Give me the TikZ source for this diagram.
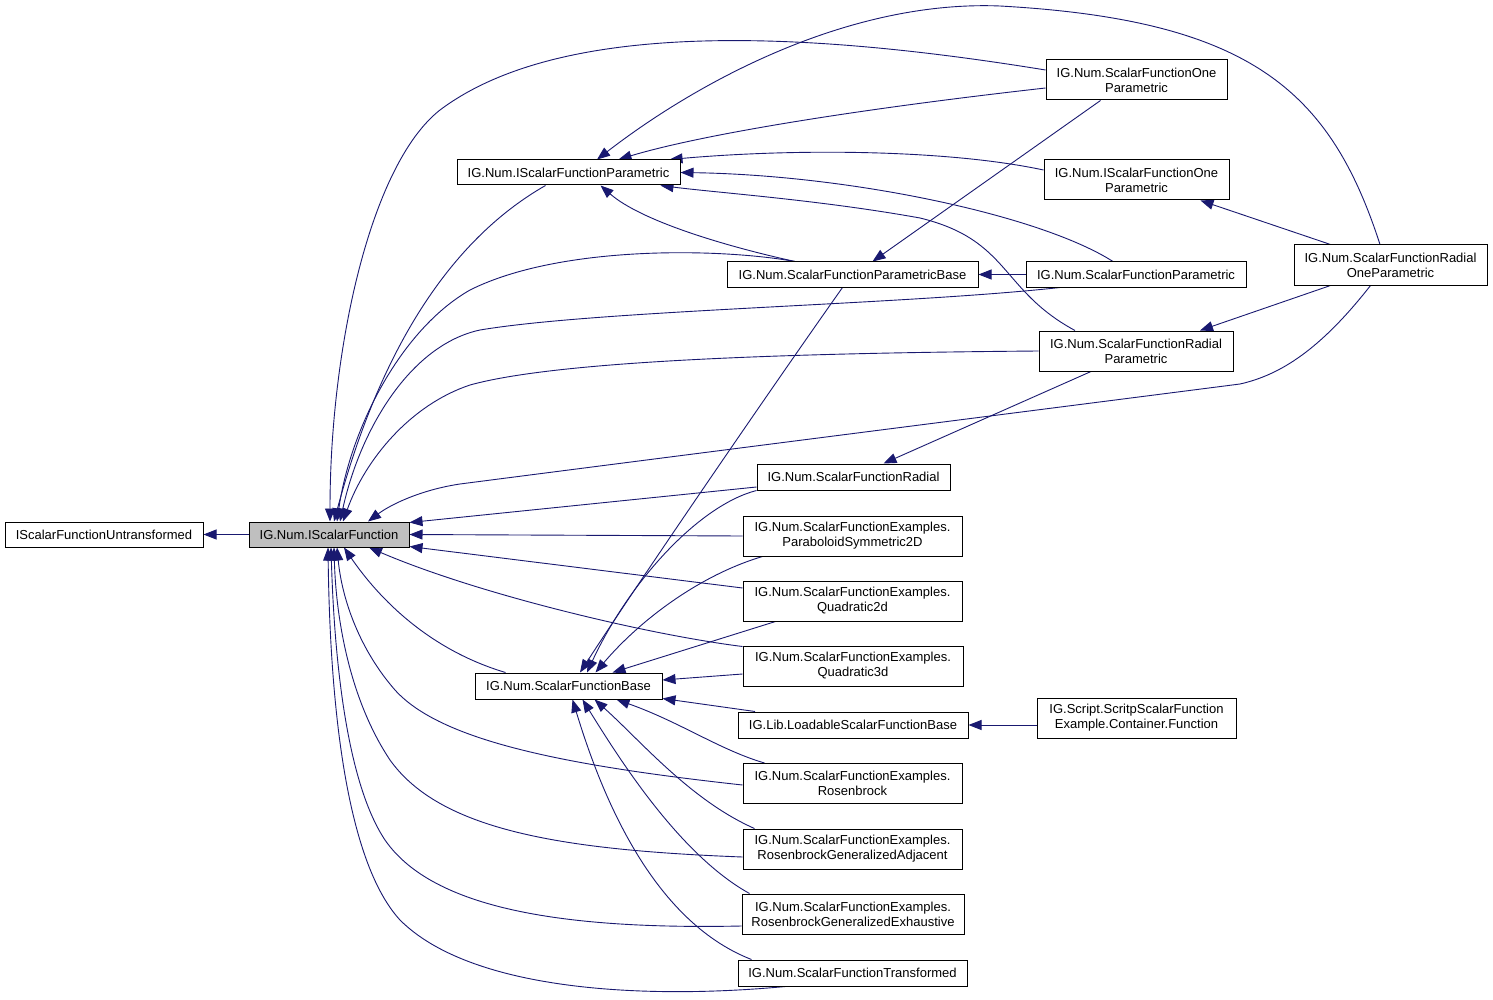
\documentclass[tikz,border=0pt]{standalone}
\usepackage{fontspec}
\setmainfont{Liberation Sans}
\usetikzlibrary{arrows.meta,calc}
\definecolor{edgeblue}{HTML}{191970}
\definecolor{boxgray}{HTML}{BFBFBF}
\pgfdeclarelayer{bg}
\pgfsetlayers{bg,main}
\begin{document}
\begin{tikzpicture}[x=1pt,y=-1pt,
 box/.style={draw=black,line width=1pt,fill=white,inner sep=0pt,minimum height=25pt,align=center,font=\fontsize{13}{15}\selectfont},
 tall/.style={box,minimum height=40pt},
 edge/.style={draw=edgeblue,line width=0.9pt,-{Triangle[length=13pt,width=10pt]}}]
\useasboundingbox (0,0) rectangle (1493,1000);

\node[box,fill=boxgray,minimum width=160pt] (I) at (329,534.5) {IG.Num.IScalarFunction};
\node[box,minimum width=198pt] (U) at (104,534.5) {IScalarFunctionUntransformed};
\node[box,minimum width=223pt] (IP) at (568.5,172.5) {IG.Num.IScalarFunctionParametric};
\node[box,minimum width=251pt] (PB) at (852.5,274.5) {IG.Num.ScalarFunctionParametricBase};
\node[box,minimum width=220pt] (SFP) at (1136,274.5) {IG.Num.ScalarFunctionParametric};
\node[tall,minimum width=181pt] (SFO) at (1136.5,80) {IG.Num.ScalarFunctionOne\\Parametric};
\node[tall,minimum width=185pt] (ISFO) at (1136.5,180) {IG.Num.IScalarFunctionOne\\Parametric};
\node[tall,minimum width=193pt] (ROP) at (1390.5,265) {IG.Num.ScalarFunctionRadial\\OneParametric};
\node[tall,minimum width=194pt] (RP) at (1136,351) {IG.Num.ScalarFunctionRadial\\Parametric};
\node[box,minimum width=193pt,minimum height=26pt] (R) at (853.5,477) {IG.Num.ScalarFunctionRadial};
\node[tall,minimum width=219pt] (PAR) at (852.5,536) {IG.Num.ScalarFunctionExamples.\\ParaboloidSymmetric2D};
\node[tall,minimum width=219pt] (Q2) at (852.5,601) {IG.Num.ScalarFunctionExamples.\\Quadratic2d};
\node[tall,minimum width=220pt] (Q3) at (853,666) {IG.Num.ScalarFunctionExamples.\\Quadratic3d};
\node[box,minimum width=187pt,minimum height=26pt] (SB) at (568.5,686) {IG.Num.ScalarFunctionBase};
\node[box,minimum width=230pt,minimum height=26pt] (LD) at (853,725) {IG.Lib.LoadableScalarFunctionBase};
\node[tall,minimum width=219pt] (ROS) at (852.5,783.5) {IG.Num.ScalarFunctionExamples.\\Rosenbrock};
\node[tall,minimum width=219pt] (RGA) at (852.5,849) {IG.Num.ScalarFunctionExamples.\\RosenbrockGeneralizedAdjacent};
\node[tall,minimum width=222pt] (RGE) at (853,914) {IG.Num.ScalarFunctionExamples.\\RosenbrockGeneralizedExhaustive};
\node[box,minimum width=229pt,minimum height=26pt] (TR) at (852.5,973) {IG.Num.ScalarFunctionTransformed};
\node[tall,minimum width=199pt] (SC) at (1136.5,718) {IG.Script.ScritpScalarFunction\\Example.Container.Function};

\begin{pgfonlayer}{bg}
\fill[white] (0,0) rectangle (1493,1000);
% straight edges
\draw[edge] (I.west) -- (U.east);
\draw[edge] (SFP.west) -- (PB.east);
\draw[edge] ([yshift=-7pt]SC.west) -- (LD.east);
\draw[edge] ([xshift=-36pt]SFO.south) -- ([xshift=20pt]PB.north);
\draw[edge] ([xshift=-60pt]ROP.north) -- ([xshift=64pt]ISFO.south);
\draw[edge] ([xshift=-60pt]ROP.south) -- ([xshift=64pt]RP.north);
\draw[edge] ([xshift=-45pt]RP.south) -- ([xshift=30pt]R.north);
% into IP
\draw[edge] ([xshift=-10.5pt]ROP.north) .. controls (1330,90) and (1250,20) .. (1000,6) .. controls (850,0) and (700,80) .. ([xshift=28.5pt]IP.north);
\draw[edge] ([yshift=-8pt]SFO.west) .. controls (850,110) and (700,135) .. ([xshift=50pt]IP.north);
\draw[edge] ([yshift=10pt]ISFO.west) .. controls (950,150) and (800,148) .. ([xshift=-11pt]IP.north east);
\draw[edge] ([xshift=-23pt]SFP.north) .. controls (1040,215) and (850,175) .. (IP.east);
\draw[edge] ([xshift=-61pt]RP.north) .. controls (1000,290) and (1010,240) .. (920,218) .. controls (820,200) and (720,193) .. ([xshift=-20pt]IP.south east);
\draw[edge] ([xshift=-57.5pt]PB.north) .. controls (720,245) and (640,220) .. ([xshift=32pt]IP.south);
% into I
\draw[edge] ([yshift=10pt]SFO.west) .. controls (800,30) and (560,20) .. (440,110) .. controls (370,165) and (330,350) .. ([xshift=1pt]I.north);
\draw[edge] ([xshift=-23pt]IP.south) .. controls (450,240) and (380,350) .. ([xshift=5pt]I.north);
\draw[edge] ([xshift=-57.5pt]PB.north) .. controls (720,248) and (560,245) .. (470,290) .. controls (400,330) and (350,430) .. ([xshift=8pt]I.north);
\draw[edge] ([xshift=-76pt]SFP.south) .. controls (900,305) and (600,310) .. (480,330) .. controls (410,345) and (360,430) .. ([xshift=11pt]I.north);
\draw[edge] (RP.west) .. controls (800,353) and (560,360) .. (470,385) .. controls (410,405) and (365,460) .. ([xshift=14pt]I.north);
\draw[edge] ([xshift=-20pt]ROP.south) .. controls (1320,350) and (1280,375) .. (1240,384) .. controls (1100,402) and (700,453) .. (460,484) .. controls (420,490) and (390,505) .. ([xshift=39pt]I.north);
\draw[edge] ([yshift=-10pt]R.west) -- ([yshift=-1pt]I.north east);
\draw[edge] (PAR.west) -- (I.east);
\draw[edge] ([yshift=13pt]Q2.west) -- ([yshift=-12pt]I.east);
\draw[edge] ([yshift=-1pt]Q3.north west) .. controls (650,635) and (480,595) .. ([xshift=40pt]I.south);
\draw[edge] ([xshift=-63pt]SB.north) .. controls (430,650) and (380,600) .. ([xshift=15pt]I.south);
\draw[edge] ([yshift=-1.5pt]ROS.west) .. controls (560,765) and (440,740) .. (395,690) .. controls (360,650) and (342,600) .. ([xshift=8pt]I.south);
\draw[edge] ([yshift=-8pt]RGA.west) .. controls (560,850) and (440,830) .. (390,760) .. controls (350,700) and (336,620) .. ([xshift=5pt]I.south);
\draw[edge] ([yshift=-12pt]RGE.west) .. controls (550,930) and (430,905) .. (385,840) .. controls (345,780) and (334,650) .. ([xshift=2pt]I.south);
\draw[edge] ([xshift=-67pt]TR.south) .. controls (640,1000) and (470,990) .. (400,920) .. controls (345,860) and (330,700) .. ([xshift=-1pt]I.south);
% into SB
\draw[edge] ([xshift=-10pt]PB.south) .. controls (770,390) and (640,580) .. ([xshift=11.5pt]SB.north);
\draw[edge] (R.south west) .. controls (700,505) and (630,580) .. ([xshift=18.5pt]SB.north);
\draw[edge] ([xshift=-90pt]PAR.south) .. controls (700,575) and (640,620) .. ([xshift=27pt]SB.north);
\draw[edge] ([xshift=-77pt]Q2.south) -- ([xshift=44pt]SB.north);
\draw[edge] ([yshift=-8pt]Q3.west) -- ([yshift=6pt]SB.east);
\draw[edge] ([xshift=-98pt]LD.north) -- ([yshift=1pt]SB.south east);
\draw[edge] ([xshift=22pt]ROS.north west) .. controls (720,750) and (680,722) .. ([xshift=48pt]SB.south);
\draw[edge] ([xshift=12pt]RGA.north west) .. controls (690,800) and (640,740) .. ([xshift=26pt]SB.south);
\draw[edge] ([xshift=8pt]RGE.north west) .. controls (680,855) and (620,760) .. ([xshift=14pt]SB.south);
\draw[edge] ([xshift=14pt]TR.north west) .. controls (650,920) and (600,790) .. ([xshift=4pt]SB.south);
\end{pgfonlayer}
\end{tikzpicture}
\end{document}
